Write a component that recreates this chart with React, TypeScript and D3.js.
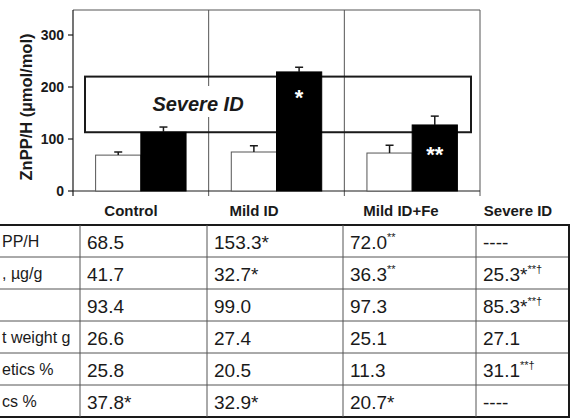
import React from 'react';
import * as d3 from 'd3';

// chart data
const groups = ['Control', 'Mild ID', 'Mild ID+Fe'];
const whiteValues = [69, 75, 73];
const whiteErrors = [6, 12, 15];
const blackValues = [113, 229, 127];
const blackErrors = [10, 9, 17];
const barMarks = ['', '*', '**'];
const severeRange = [113, 220];
const yTicks = [0, 100, 200, 300];

// table data
const headers = ['Control', 'Mild ID', 'Mild ID+Fe', 'Severe ID'];
const rowLabels = ['PP/H', ', \u00b5g/g', '', 't weight g', 'etics %', 'cs %'];
const tableRows = [
  ['68.5', '153.3*', '72.0^**', '----'],
  ['41.7', '32.7*', '36.3^**', '25.3*^**\u2020'],
  ['93.4', '99.0', '97.3', '85.3*^**\u2020'],
  ['26.6', '27.4', '25.1', '27.1'],
  ['25.8', '20.5', '11.3', '31.1^**\u2020'],
  ['37.8*', '32.9*', '20.7*', '----'],
];

const FONT = 'Arial, "Liberation Sans", sans-serif';
const INK = '#1a1a1a';
const FRAME = '#555';

function Cell({ x, y, text }: { x: number; y: number; text: string }) {
  const [main, sup] = text.split('^');
  return (
    <text x={x} y={y} fontSize={19} fontFamily={FONT} fill={INK}>
      {main}
      {sup && (
        <tspan fontSize={11} dy={-8}>
          {sup}
        </tspan>
      )}
    </text>
  );
}

export default function App() {
  const left = 73;
  const right = 480;
  const top = 9;
  const base = 191;

  const x = d3.scaleBand<string>().domain(groups).range([left, right]).padding(0);
  const inner = d3
    .scaleBand<string>()
    .domain(['white', 'black'])
    .range([0, x.bandwidth()])
    .paddingInner(0)
    .paddingOuter(0.5);
  const y = d3.scaleLinear().domain([0, 350]).range([base, top]);

  const colLines = [80, 207, 343, 476];
  const tableRight = 569;
  const rowY = d3.range(tableRows.length + 1).map((i) => 225 + i * 32);
  const headerX = [131, 254, 401, 518];

  const cap = 4;

  const bar = (g: string, kind: string, v: number, err: number, i: number) => {
    const bx = (x(g) as number) + (inner(kind) as number);
    const w = inner.bandwidth();
    const cx = bx + w / 2;
    return (
      <g key={kind + i}>
        <rect
          x={bx}
          y={y(v)}
          width={w}
          height={base - y(v)}
          fill={kind === 'black' ? '#000' : '#fff'}
          stroke={kind === 'black' ? '#000' : FRAME}
          strokeWidth={1}
        />
        <line x1={cx} x2={cx} y1={y(v)} y2={y(v + err)} stroke={INK} strokeWidth={1.5} />
        <line x1={cx - cap} x2={cx + cap} y1={y(v + err)} y2={y(v + err)} stroke={INK} strokeWidth={1.5} />
      </g>
    );
  };

  return (
    <div style={{ position: 'absolute', left: 0, top: 0 }}>
      <svg width={575} height={420} style={{ display: 'block', background: '#fff' }}>
        {/* plot frame */}
        <line x1={left} x2={right} y1={top + 1} y2={top + 1} stroke={FRAME} strokeWidth={1} />
        <line x1={right} x2={right} y1={top + 1} y2={base + 5} stroke={FRAME} strokeWidth={1} />
        {groups.slice(1).map((g) => (
          <line
            key={g}
            x1={x(g)}
            x2={x(g)}
            y1={top + 1}
            y2={base + 5}
            stroke={FRAME}
            strokeWidth={1}
          />
        ))}
        <line x1={left} x2={left} y1={top + 1} y2={base + 5} stroke={INK} strokeWidth={1.2} />
        <line x1={left} x2={right} y1={base} y2={base} stroke={INK} strokeWidth={1.2} />

        {/* y axis */}
        {yTicks.map((t) => (
          <g key={t}>
            <line x1={left - 5} x2={left} y1={y(t)} y2={y(t)} stroke={INK} strokeWidth={1.2} />
            <text
              x={left - 9}
              y={y(t)}
              dy="0.35em"
              textAnchor="end"
              fontSize={14}
              fontWeight="bold"
              fontFamily={FONT}
              fill={INK}
            >
              {t}
            </text>
          </g>
        ))}
        <text
          transform={`translate(32,107) rotate(-90)`}
          textAnchor="middle"
          fontSize={16.5}
          fontWeight="bold"
          fontFamily={FONT}
          fill={INK}
        >
          ZnPP/H (µmol/mol)
        </text>

        {/* severe ID range box */}
        <rect
          x={85}
          y={y(severeRange[1])}
          width={386}
          height={y(severeRange[0]) - y(severeRange[1])}
          fill="none"
          stroke={INK}
          strokeWidth={2}
        />
        <rect x={149} y={86} width={99} height={31} fill="#fff" />
        <text
          x={198}
          y={(y(severeRange[0]) + y(severeRange[1])) / 2}
          dy="0.35em"
          textAnchor="middle"
          fontSize={20}
          fontWeight="bold"
          fontStyle="italic"
          fontFamily={FONT}
          fill={INK}
        >
          Severe ID
        </text>

        {/* bars */}
        {groups.map((g, i) => bar(g, 'white', whiteValues[i], whiteErrors[i], i))}
        {groups.map((g, i) => bar(g, 'black', blackValues[i], blackErrors[i], i))}
        {groups.map((g, i) =>
          barMarks[i] ? (
            <text
              key={'m' + g}
              x={(x(g) as number) + (inner('black') as number) + inner.bandwidth() / 2}
              y={y(blackValues[i]) + (i === 1 ? 33 : 37)}
              textAnchor="middle"
              fontSize={22}
              fontWeight="bold"
              fontFamily={FONT}
              fill="#fff"
            >
              {barMarks[i]}
            </text>
          ) : null
        )}

        {/* headers */}
        {headers.map((h, i) => (
          <text
            key={h}
            x={headerX[i]}
            y={216}
            textAnchor="middle"
            fontSize={15}
            fontWeight="bold"
            fontFamily={FONT}
            fill={INK}
          >
            {h}
          </text>
        ))}

        {/* table */}
        {rowY.map((ry, i) => (
          <line
            key={'r' + i}
            x1={0}
            x2={tableRight}
            y1={ry}
            y2={ry}
            stroke={i === 0 || i === rowY.length - 1 ? INK : FRAME}
            strokeWidth={i === 0 || i === rowY.length - 1 ? 2 : 1}
          />
        ))}
        {colLines.map((cx) => (
          <line
            key={'c' + cx}
            x1={cx}
            x2={cx}
            y1={rowY[0]}
            y2={rowY[rowY.length - 1]}
            stroke={FRAME}
            strokeWidth={1}
          />
        ))}
        <line
          x1={tableRight}
          x2={tableRight}
          y1={rowY[0] - 1}
          y2={rowY[rowY.length - 1] + 1}
          stroke={INK}
          strokeWidth={2}
        />
        {rowLabels.map((l, i) => (
          <text
            key={'l' + i}
            x={2}
            y={rowY[i] + 22}
            fontSize={16}
            fontFamily={FONT}
            fill={INK}
          >
            {l}
          </text>
        ))}
        {tableRows.map((row, i) =>
          row.map((c, j) => <Cell key={i + '-' + j} x={colLines[j] + 7} y={rowY[i] + 24} text={c} />)
        )}
      </svg>
    </div>
  );
}
